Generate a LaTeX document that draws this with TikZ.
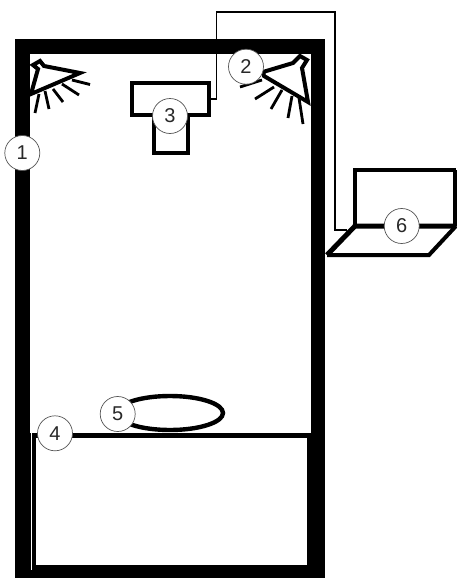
\documentclass[tikz,border=0pt]{standalone}
\usepackage{fontspec}
\setmainfont{Liberation Sans}
\usetikzlibrary{positioning, calc}
\definecolor{TagGray}{RGB}{85,85,85}
\definecolor{TagText}{RGB}{40,40,40}

\begin{document}
\begin{tikzpicture}[x=0.5pt, y=-0.5pt, font=\fontsize{10}{12}\selectfont,
	tag/.style={circle, draw=TagGray, line width=0.35pt, fill=white, text=TagText, minimum size=17.5pt, inner sep=0pt},
	unit/.style={draw=black, line width=2pt, fill=white, inner sep=0pt, outer sep=0pt},
	lamp/.style={draw=black, line width=2pt, line join=miter},
	ray/.style={draw=black, line width=1.4pt},
	wire/.style={draw=black, line width=0.75pt}]

	\useasboundingbox (0,0) rectangle (456,578);

	% room
	\fill[black] (15,39) rectangle (325,578);
	\fill[white] (29.5,54) rectangle (311,565);

	% bed
	\fill[black] (29.5,432.7) rectangle (311,565);
	\fill[white] (36,437.7) rectangle (306.5,565);
	\fill[white] (30.6,432.7) rectangle (31.8,570);

	% table top
	\draw[black, line width=2.2pt] (170,413) ellipse [x radius=53, y radius=17];

	% projector
	\node[unit, minimum width=38.3pt, minimum height=16pt] (body) at (170.5,99) {};
	\node[unit, minimum width=17pt, minimum height=19pt, below=0pt of body] (lens) {};

	% lamps
	\draw[lamp] (31,94) -- (38,69) -- (33,65) -- (40,61) -- (44,66) -- (80,73) -- cycle;
	\draw[ray] (72,80) -- (90,84.5);
	\draw[ray] (62,84) -- (79,95);
	\draw[ray] (53,89) -- (63,102);
	\draw[ray] (45,91) -- (49,109);
	\draw[ray] (39,94) -- (35,113);

	\draw[lamp] (308,102) -- (302,68) -- (307,60) -- (300,56) -- (293,63) -- (263,72) -- (264,76) -- cycle;
	\draw[ray] (240,87) -- (262,80);
	\draw[ray] (255,99) -- (274,87);
	\draw[ray] (271,109) -- (282,90);
	\draw[ray] (288,118) -- (292,96);
	\draw[ray] (303,124) -- (299,98);

	% laptop
	\draw[black, line width=2pt] (355,226) -- (355,170) -- (456,170);
	\draw[black, line width=2pt] (454.5,170) -- (454.5,226);
	\draw[black, line width=2pt, line join=miter] (327,255) -- (429,255) -- (456,226);
	\draw[black, line width=2.5pt] (327,255) -- (355,226) -- (456,226);

	\coordinate (outlet) at (347,230);
	\draw[wire] (body.east) -- ++(7.5,0) |- (335,12) |- (outlet);

	% labels
	\node[tag] (t1) at (22.3,153) {1};
	\node[tag] (t2) at (246,66.7) {2};
	\node[tag] (t3) at (170,116) {3};
	\node[tag] (t4) at (55,433.3) {4};
	\node[tag] (t5) at (117.7,414) {5};
	\node[tag] (t6) at (401.7,226) {6};
\end{tikzpicture}
\end{document}
